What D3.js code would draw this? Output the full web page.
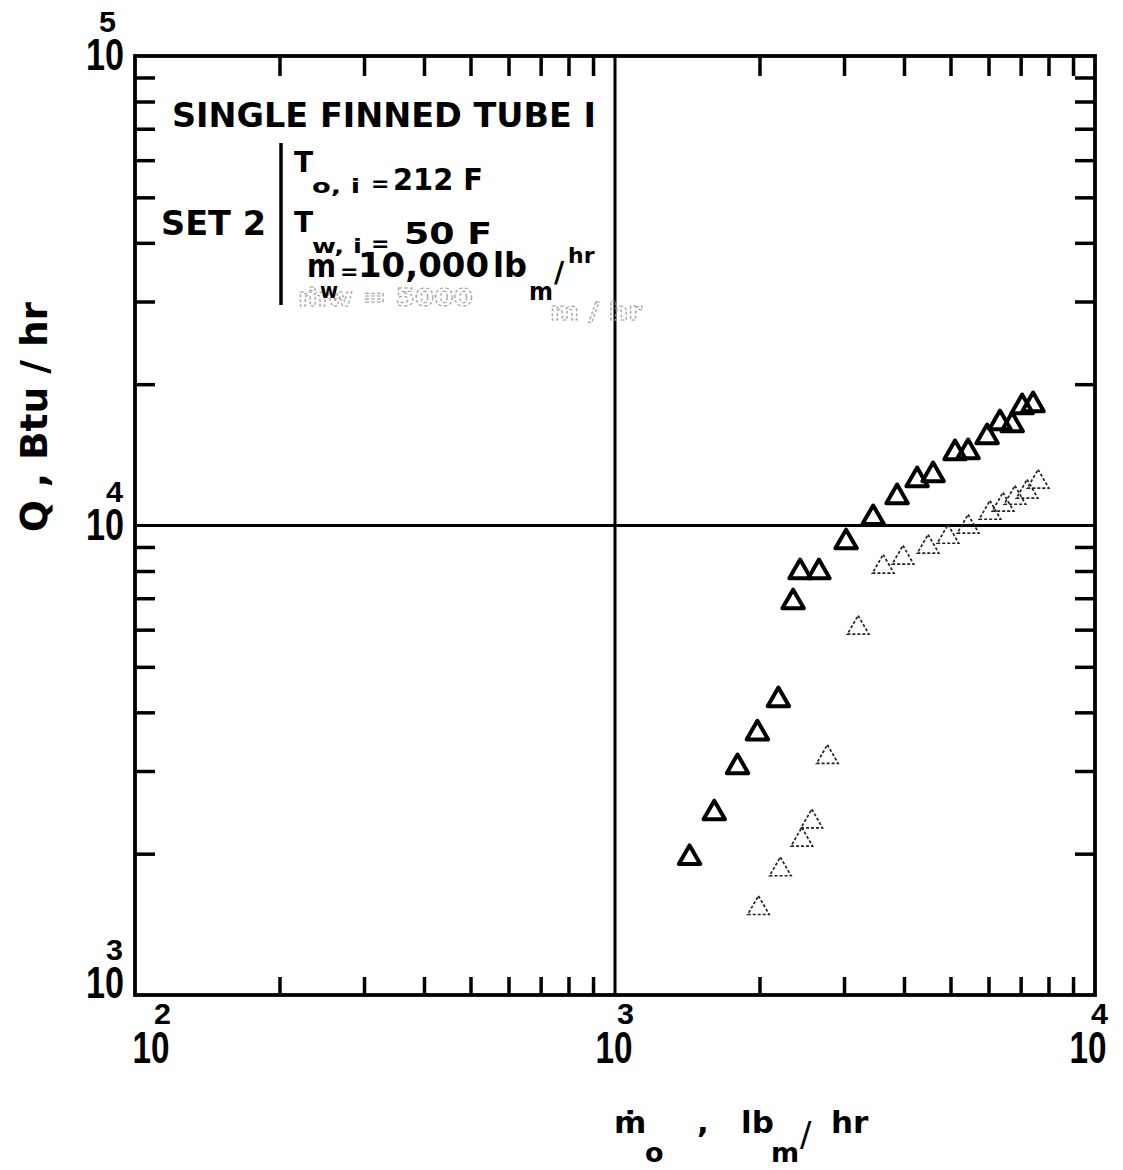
<!DOCTYPE html>
<html>
<head>
<meta charset="utf-8">
<script src="https://cdnjs.cloudflare.com/ajax/libs/d3/7.8.5/d3.min.js"></script>
<style>
body{margin:0;background:#fff;}
text{font-family:"DejaVu Sans",sans-serif;font-weight:bold;fill:#000;}
text.puissance{font-family:"Liberation Sans","DejaVu Sans",sans-serif;}
.fantome{fill:none;stroke:#999;stroke-width:1;stroke-dasharray:3 2;}
</style>
</head>
<body>
<script>
// données : SET 2, m_w = 10 000 lbm/hr
const debitHuile = [1430,1610,1800,1980,2190,2350,2430,2660,3030,3450,3870,4260,4600,5110,5440,5960,6340,6720,7050,7430];
const chaleur = [1960,2440,3060,3610,4250,6870,7960,7960,9220,10380,11500,12500,12810,14270,14340,15440,16530,16370,17880,18060];
// série vue en transparence (m_w = 5000 lbm/hr)
const debitHuileFantome = [1990,2210,2450,2570,2770,3210,3620,3980,4490,4940,5440,6040,6430,6810,7220,7610];
const chaleurFantome = [1530,1850,2140,2340,3210,6050,8160,8530,9000,9450,9930,10630,11060,11440,11790,12380];
// étiquettes des axes (puissances de dix)
const exposantsX = [2,3,4];
const exposantsY = [3,4,5];

// créer le canevas
const canevas = d3.select('body')
  .append('svg')
  .attr('width',1123)
  .attr('height',1170);

const gauche = 135, droite = 1095, haut = 56, bas = 995;

// échelles logarithmiques
const echelleX = d3.scaleLog().domain([1e2,1e4]).range([gauche,droite]);
const echelleY = d3.scaleLog().domain([1e3,1e5]).range([bas,haut]);

// graduations secondaires (2..9 dans chaque décade)
const mineursX = echelleX.ticks().filter(v => Math.abs(Math.log10(v) % 1) > 1e-6);
const mineursY = echelleY.ticks().filter(v => Math.abs(Math.log10(v) % 1) > 1e-6);

function styleAxe(g){
  g.select('.domain').remove();
  g.selectAll('.tick line').attr('stroke','#000').attr('stroke-width',3.5);
  g.selectAll('.tick text').remove();
}

canevas.append('g').attr('transform',`translate(0,${haut})`)
  .call(d3.axisTop(echelleX).tickValues(mineursX).tickSize(-20).tickFormat(''))
  .call(styleAxe);
canevas.append('g').attr('transform',`translate(0,${bas})`)
  .call(d3.axisBottom(echelleX).tickValues(mineursX).tickSize(-18).tickFormat(''))
  .call(styleAxe);
canevas.append('g').attr('transform',`translate(${gauche},0)`)
  .call(d3.axisLeft(echelleY).tickValues(mineursY).tickSize(-20).tickFormat(''))
  .call(styleAxe);
canevas.append('g').attr('transform',`translate(${droite},0)`)
  .call(d3.axisRight(echelleY).tickValues(mineursY).tickSize(-20).tickFormat(''))
  .call(styleAxe);

// cadre
canevas.append('rect')
  .attr('x',gauche).attr('y',haut)
  .attr('width',droite-gauche).attr('height',bas-haut)
  .attr('fill','none').attr('stroke','#000').attr('stroke-width',3.8);

// lignes des décades intérieures
canevas.append('line')
  .attr('x1',echelleX(1e3)).attr('x2',echelleX(1e3))
  .attr('y1',haut).attr('y2',bas)
  .attr('stroke','#000').attr('stroke-width',3);
canevas.append('line')
  .attr('x1',gauche).attr('x2',droite)
  .attr('y1',echelleY(1e4)).attr('y2',echelleY(1e4))
  .attr('stroke','#000').attr('stroke-width',3);

// étiquettes de l'axe x
const decalX = [16,-1,-7];
exposantsX.forEach((e,i) => {
  const cx = echelleX(Math.pow(10,e)) + decalX[i];
  canevas.append('text').attr('class','puissance')
    .attr('x',cx).attr('y',1063)
    .attr('text-anchor','middle')
    .attr('font-size',44)
    .attr('textLength',37).attr('lengthAdjust','spacingAndGlyphs')
    .text('10');
  canevas.append('text').attr('class','puissance')
    .attr('x',cx+20).attr('y',1024)
    .attr('text-anchor','end')
    .attr('font-size',29)
    .attr('textLength',17).attr('lengthAdjust','spacingAndGlyphs')
    .text(e);
});

// étiquettes de l'axe y
exposantsY.forEach(e => {
  const base = Math.min(echelleY(Math.pow(10,e)) + 14, 998);
  canevas.append('text').attr('class','puissance')
    .attr('x',124).attr('y',base)
    .attr('text-anchor','end')
    .attr('font-size',44)
    .attr('textLength',38).attr('lengthAdjust','spacingAndGlyphs')
    .text('10');
  canevas.append('text').attr('class','puissance')
    .attr('x',e === 5 ? 116 : 123).attr('y',base-38)
    .attr('text-anchor','end')
    .attr('font-size',29)
    .attr('textLength',17).attr('lengthAdjust','spacingAndGlyphs')
    .text(e);
});

// titres des axes
canevas.append('text')
  .attr('transform','translate(47,417) rotate(-90)')
  .attr('text-anchor','middle')
  .attr('font-size',38)
  .attr('textLength',230).attr('lengthAdjust','spacingAndGlyphs')
  .text('Q , Btu / hr');

const titreX = canevas.append('text').attr('font-size',31);
titreX.append('tspan').attr('x',614).attr('y',1133).text('\u1E41');
titreX.append('tspan').attr('x',645).attr('y',1162).attr('font-size',27).text('o');
titreX.append('tspan').attr('x',697).attr('y',1133).text(',');
titreX.append('tspan').attr('x',741).attr('y',1133).text('lb');
titreX.append('tspan').attr('x',771).attr('y',1162).attr('font-size',27).text('m');
titreX.append('tspan').attr('x',800).attr('y',1146).attr('font-size',34).attr('font-weight','normal').text('/');
titreX.append('tspan').attr('x',831).attr('y',1133).text('hr');

// texte fantôme (page précédente vue en transparence)
canevas.append('text').attr('class','fantome')
  .attr('x',298).attr('y',306).attr('font-size',24)
  .attr('textLength',175).attr('lengthAdjust','spacingAndGlyphs')
  .text('\u1E41w = 5000');
canevas.append('text').attr('class','fantome')
  .attr('x',550).attr('y',320).attr('font-size',24)
  .attr('textLength',92).attr('lengthAdjust','spacingAndGlyphs')
  .text('m / hr');

// légende des conditions
canevas.append('text')
  .attr('x',172).attr('y',127).attr('font-size',34)
  .attr('textLength',424).attr('lengthAdjust','spacingAndGlyphs')
  .text('SINGLE FINNED TUBE I');
canevas.append('text')
  .attr('x',161).attr('y',235).attr('font-size',34)
  .attr('textLength',105).attr('lengthAdjust','spacingAndGlyphs')
  .text('SET 2');
canevas.append('line')
  .attr('x1',281).attr('x2',281).attr('y1',143).attr('y2',305)
  .attr('stroke','#000').attr('stroke-width',3.5);

// T_o,i = 212 F
canevas.append('text').attr('x',294).attr('y',172).attr('font-size',28).text('T');
canevas.append('text').attr('x',312).attr('y',193).attr('font-size',20)
  .attr('textLength',48).attr('lengthAdjust','spacingAndGlyphs').text('o, i');
canevas.append('text').attr('x',371).attr('y',191).attr('font-size',22).text('=');
canevas.append('text').attr('x',393).attr('y',190).attr('font-size',31)
  .attr('textLength',90).attr('lengthAdjust','spacingAndGlyphs').text('212 F');
// T_w,i = 50 F
canevas.append('text').attr('x',294).attr('y',232).attr('font-size',28).text('T');
canevas.append('text').attr('x',312).attr('y',253).attr('font-size',20)
  .attr('textLength',50).attr('lengthAdjust','spacingAndGlyphs').text('w, i');
canevas.append('text').attr('x',371).attr('y',251).attr('font-size',22).text('=');
canevas.append('text').attr('x',404).attr('y',244).attr('font-size',31)
  .attr('textLength',88).attr('lengthAdjust','spacingAndGlyphs').text('50  F');
// m_w = 10,000 lb_m/hr
canevas.append('text').attr('x',307).attr('y',277).attr('font-size',32)
  .attr('textLength',29).attr('lengthAdjust','spacingAndGlyphs').text('m');
canevas.append('text').attr('x',320).attr('y',298).attr('font-size',22)
  .attr('textLength',18).attr('lengthAdjust','spacingAndGlyphs').text('w');
canevas.append('text').attr('x',340).attr('y',279).attr('font-size',22).text('=');
canevas.append('text').attr('x',358).attr('y',277).attr('font-size',33)
  .attr('textLength',131).attr('lengthAdjust','spacingAndGlyphs').text('10,000');
canevas.append('text').attr('x',493).attr('y',277).attr('font-size',33)
  .attr('textLength',34).attr('lengthAdjust','spacingAndGlyphs').text('lb');
canevas.append('text').attr('x',529).attr('y',300).attr('font-size',24)
  .attr('textLength',24).attr('lengthAdjust','spacingAndGlyphs').text('m');
canevas.append('text').attr('x',554).attr('y',282).attr('font-size',28).attr('font-weight','normal').text('/');
canevas.append('text').attr('x',568).attr('y',263).attr('font-size',22).text('hr');

// marqueurs triangulaires
const triangle = d3.symbol().type(d3.symbolTriangle);

canevas.selectAll('path.fantome-pt')
  .data(debitHuileFantome.map((x,i) => [x, chaleurFantome[i]]))
  .enter()
  .append('path')
  .attr('class','fantome-pt')
  .attr('d',triangle.size(200)())
  .attr('transform',d => `translate(${echelleX(d[0])},${echelleY(d[1])})`)
  .attr('fill','none')
  .attr('stroke','#222')
  .attr('stroke-width',1.7)
  .attr('stroke-dasharray','3 2');

canevas.selectAll('path.point')
  .data(debitHuile.map((x,i) => [x, chaleur[i]]))
  .enter()
  .append('path')
  .attr('class','point')
  .attr('d',triangle.size(200)())
  .attr('transform',d => `translate(${echelleX(d[0])},${echelleY(d[1])})`)
  .attr('fill','none')
  .attr('stroke','#000')
  .attr('stroke-width',4)
  .attr('stroke-linejoin','round');
</script>
</body>
</html>
